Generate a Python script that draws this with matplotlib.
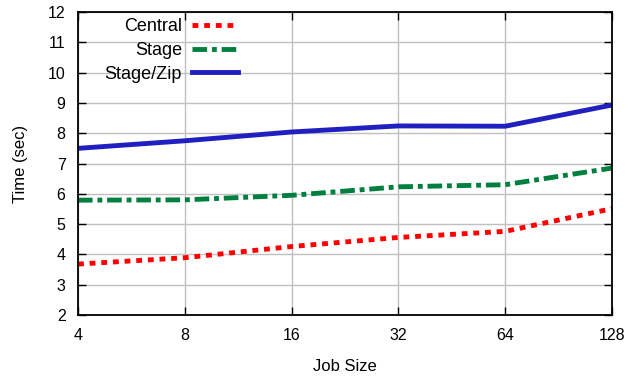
import matplotlib
matplotlib.use('Agg')
import matplotlib.pyplot as plt

# Datos
job_size = [4, 8, 16, 32, 64, 128]
central = [3.68, 3.89, 4.26, 4.56, 4.76, 5.51]
stage = [5.79, 5.80, 5.95, 6.23, 6.30, 6.85]
stage_zip = [7.50, 7.75, 8.04, 8.24, 8.23, 8.93]

plt.rcParams['font.family'] = ['Liberation Sans', 'DejaVu Sans']
plt.rcParams['font.size'] = 11

fig = plt.figure(figsize=(6.28, 3.84), dpi=100)
ax = fig.add_axes([78 / 628, 1 - 315 / 384, (612 - 78) / 628, (315 - 12) / 384])

ax.plot(job_size, central, color='#ff0000', linestyle=(0, (1.2, 1.2)), linewidth=3.5, label='Central')
ax.plot(job_size, stage, color='#007f3f', linestyle=(0, (3, 1, 1, 1)), linewidth=3.5, label='Stage')
ax.plot(job_size, stage_zip, color='#2020c0', linestyle='-', linewidth=3.5, label='Stage/Zip')

ax.set_xscale('log', base=2)
ax.set_xticks(job_size)
ax.set_xticklabels([str(j) for j in job_size])
ax.minorticks_off()
ax.set_xlim(4, 128)
ax.set_ylim(2, 12)
ax.set_yticks(range(2, 13))

ax.grid(True, color='#c0c0c0', linewidth=1)
ax.tick_params(direction='in', length=6, width=1, top=True, right=True, pad=9, labelsize=11.5)
for s in ax.spines.values():
    s.set_linewidth(1.3)

ax.set_xlabel('Job Size', labelpad=12, fontsize=12)
ax.set_ylabel('Time (sec)', labelpad=14, fontsize=12)

ax.legend(loc='upper right', frameon=False, markerfirst=False, fontsize=13,
          handlelength=2.55, handletextpad=0.55, borderpad=0, borderaxespad=0,
          labelspacing=0.38, bbox_to_anchor=(238 / 628, 1 - 18 / 384),
          bbox_transform=fig.transFigure)

fig.savefig('out.png', dpi=100)
